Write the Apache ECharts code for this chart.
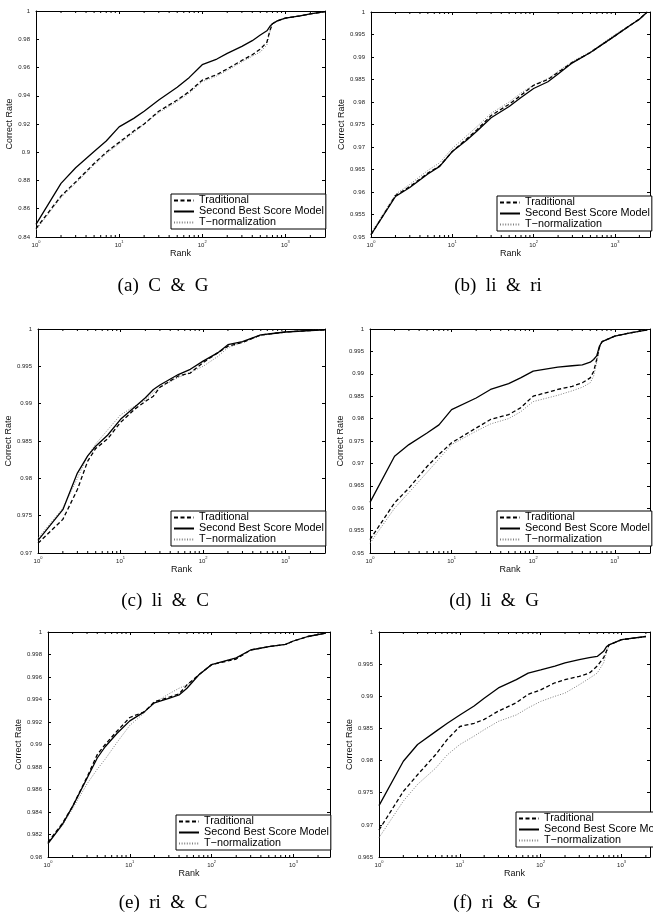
<!DOCTYPE html>
<html>
<head>
<meta charset="utf-8">
<script src="https://cdn.jsdelivr.net/npm/echarts@6/dist/echarts.min.js"></script>
<style>
html,body{margin:0;padding:0;background:#fff;}
#chart{width:653px;height:917px;}
</style>
</head>
<body>
<div id="chart"></div>
<script>
// ---------- Data ----------
var seriesNames = ['Traditional', 'Second Best Score Model', 'T\u2212normalization'];
var captions = ['(a)  C  &  G', '(b)  li  &  ri', '(c)  li  &  C', '(d)  li  &  G', '(e)  ri  &  C', '(f)  ri  &  G'];
var yMins = [0.84, 0.95, 0.97, 0.95, 0.98, 0.965];
var yMaxs = [1, 1, 1, 1, 1, 1];
var yIntervals = [0.02, 0.005, 0.005, 0.005, 0.002, 0.005];
var xMaxs = [3000, 2700, 3000, 2700, 2800, 2250];
var minorTickValues = [2,3,4,5,6,7,8,9,20,30,40,50,60,70,80,90,200,300,400,500,600,700,800,900,2000,3000];

// (a) C & G
var rankA = [1,2,3,5,7,10,15,20,30,50,70,100,150,200,300,400,500,600,650,700,800,1000,1500,2000,3000];
var tradA = [0.846,0.869,0.879,0.892,0.900,0.907,0.915,0.920,0.929,0.937,0.943,0.951,0.955,0.959,0.965,0.969,0.973,0.978,0.986,0.991,0.993,0.995,0.9965,0.998,0.9995];
var sbsA  = [0.849,0.878,0.889,0.9005,0.908,0.918,0.924,0.929,0.937,0.946,0.953,0.962,0.966,0.970,0.975,0.979,0.983,0.986,0.989,0.991,0.993,0.995,0.9965,0.998,0.9995];
var tnA   = [0.845,0.868,0.878,0.891,0.899,0.906,0.914,0.920,0.928,0.936,0.942,0.950,0.954,0.958,0.964,0.968,0.971,0.976,0.985,0.991,0.993,0.995,0.9965,0.998,0.9995];

// (b) li & ri
var rankB = [1,2,3,5,7,10,15,20,30,50,70,100,150,200,300,500,700,1000,1500,2000,2500];
var tradB = [0.9505,0.9592,0.9612,0.9642,0.9658,0.969,0.9718,0.9738,0.977,0.9795,0.9815,0.9837,0.985,0.9866,0.9888,0.991,0.9928,0.9947,0.9969,0.9984,1.0];
var sbsB  = [0.9505,0.959,0.961,0.964,0.9657,0.969,0.9715,0.9735,0.9765,0.979,0.981,0.983,0.9845,0.9862,0.9887,0.991,0.9928,0.9947,0.9969,0.9984,1.0];
var tnB   = [0.9508,0.9595,0.9617,0.9648,0.9665,0.9697,0.9725,0.9745,0.9775,0.980,0.982,0.9838,0.9852,0.9868,0.989,0.9912,0.993,0.995,0.997,0.9985,1.0];

// (c) li & C
var rankC = [1,2,3,4,5,7,10,15,20,25,30,50,70,100,150,200,300,500,700,1000,2000,3000];
var tradC = [0.9713,0.9745,0.9785,0.9823,0.984,0.9853,0.9875,0.9893,0.9903,0.9910,0.9922,0.9937,0.9941,0.9955,0.9968,0.9977,0.9982,0.9992,0.9994,0.9996,0.9998,0.9999];
var sbsC  = [0.9717,0.9758,0.9807,0.983,0.9843,0.9858,0.9879,0.9896,0.9908,0.9919,0.9925,0.9939,0.9946,0.9957,0.9968,0.9979,0.9983,0.9992,0.9994,0.9996,0.9998,0.9999];
var tnC   = [0.9720,0.9760,0.9800,0.9830,0.9846,0.9865,0.9885,0.9897,0.9905,0.9915,0.9922,0.9935,0.9942,0.9950,0.9963,0.9975,0.9982,0.9991,0.9994,0.9996,0.9998,0.9999];

// (d) li & G
var rankD = [1,2,3,5,7,10,20,30,50,70,100,200,300,400,500,550,600,650,700,1000,1500,2500];
var tradD = [0.953,0.9612,0.9645,0.9693,0.972,0.9746,0.9779,0.9798,0.9809,0.9824,0.985,0.9865,0.9872,0.988,0.9891,0.9905,0.9932,0.996,0.9972,0.9984,0.9991,0.9998];
var sbsD  = [0.9613,0.9716,0.9742,0.9768,0.9786,0.982,0.9846,0.9865,0.9878,0.9891,0.9906,0.9915,0.9918,0.992,0.9926,0.9932,0.994,0.9962,0.9972,0.9984,0.9991,0.9998];
var tnD   = [0.9522,0.960,0.9635,0.968,0.971,0.9742,0.9772,0.9788,0.980,0.9815,0.9838,0.9852,0.9862,0.987,0.988,0.9895,0.9925,0.9958,0.9972,0.9984,0.9991,0.9998];

// (e) ri & C
var rankE = [1,1.5,2,3,4,5,7,10,15,20,30,40,50,70,100,200,300,500,800,1000,1500,2500];
var tradE = [0.9813,0.983,0.9845,0.9871,0.9891,0.990,0.9912,0.9924,0.9929,0.9938,0.9942,0.9945,0.9953,0.9962,0.9971,0.9976,0.9984,0.9987,0.9989,0.9992,0.9996,0.9999];
var sbsE  = [0.9812,0.9829,0.9845,0.987,0.9888,0.9898,0.991,0.9921,0.9929,0.9937,0.9941,0.9944,0.995,0.9962,0.9971,0.9977,0.9984,0.9987,0.9989,0.9992,0.9996,0.9999];
var tnE   = [0.9812,0.9828,0.9843,0.9865,0.9878,0.9887,0.9902,0.9917,0.9928,0.9937,0.9945,0.9950,0.9953,0.9962,0.9971,0.9977,0.9984,0.9987,0.9989,0.9992,0.9996,0.9999];

// (f) ri & G
var rankF = [1,2,3,5,7,10,15,20,30,50,70,100,150,200,300,400,500,600,650,700,1000,2000];
var tradF = [0.9692,0.9752,0.9778,0.9809,0.9833,0.9853,0.9858,0.9864,0.9877,0.989,0.9903,0.991,0.9921,0.9926,0.9931,0.9936,0.9947,0.996,0.997,0.998,0.9988,0.9993];
var sbsF  = [0.973,0.9799,0.9825,0.9845,0.9858,0.9871,0.9885,0.9897,0.9913,0.9926,0.9936,0.9941,0.9947,0.9952,0.9957,0.996,0.9962,0.997,0.9977,0.998,0.9988,0.9993];
var tnF   = [0.968,0.9737,0.9763,0.9788,0.9809,0.9825,0.9838,0.9848,0.9861,0.9871,0.9882,0.9892,0.99,0.9905,0.9918,0.9928,0.9936,0.9952,0.9968,0.998,0.9988,0.9993];

var panels = [
  {rank: rankA, trad: tradA, sbs: sbsA, tn: tnA},
  {rank: rankB, trad: tradB, sbs: sbsB, tn: tnB},
  {rank: rankC, trad: tradC, sbs: sbsC, tn: tnC},
  {rank: rankD, trad: tradD, sbs: sbsD, tn: tnD},
  {rank: rankE, trad: tradE, sbs: sbsE, tn: tnE},
  {rank: rankF, trad: tradF, sbs: sbsF, tn: tnF}
];

// ---------- Layout ----------
var grids = [
  {left: 36,  top: 11,  width: 289, height: 226},
  {left: 371, top: 12,  width: 280, height: 225},
  {left: 38,  top: 329, width: 287, height: 224},
  {left: 370, top: 329, width: 281, height: 224},
  {left: 48,  top: 632, width: 282, height: 225},
  {left: 379, top: 632, width: 274, height: 225}
];
var legendPos = [
  {left: 171, top: 194},
  {left: 497, top: 196},
  {left: 171, top: 511},
  {left: 497, top: 511},
  {left: 176, top: 815},
  {left: 516, top: 812}
];
var captionPos = [[163, 286], [498, 286], [165, 601], [494, 601], [163, 903], [497, 903]];

var FONT = 'Liberation Sans, Arial, Helvetica, sans-serif';
var option = {
  animation: false,
  backgroundColor: '#fff',
  grid: [], xAxis: [], yAxis: [], series: [], legend: [], graphic: []
};

function zip(xs, ys) { return xs.map(function (x, i) { return [x, ys[i]]; }); }

panels.forEach(function (p, i) {
  option.grid.push(Object.assign({containLabel: false}, grids[i]));
  var xBase = {
    type: 'log', logBase: 10, min: 1, max: xMaxs[i], gridIndex: i,
    axisLine: {show: true, lineStyle: {color: '#000', width: 1}},
    axisTick: {show: true, inside: true, length: 3, lineStyle: {color: '#000', width: 1}},
    splitLine: {show: false}, minorTick: {show: false}
  };
  option.xAxis.push(Object.assign({}, xBase, {
    position: 'bottom',
    name: 'Rank', nameLocation: 'middle', nameGap: 12,
    nameTextStyle: {fontFamily: FONT, fontSize: 9, color: '#111'},
    axisLabel: {
      show: true, margin: 3,
      formatter: function (v) {
        var e = Math.log10(v), r = Math.round(e);
        if (Math.abs(e - r) > 1e-6) return '';
        return '{b|10}{s|' + r + '}';
      },
      rich: {
        b: {fontFamily: FONT, fontSize: 6, color: '#222', lineHeight: 8, verticalAlign: 'bottom'},
        s: {fontFamily: FONT, fontSize: 4, color: '#222', lineHeight: 8, verticalAlign: 'top'}
      }
    }
  }));
  option.xAxis.push(Object.assign({}, xBase, {position: 'top', axisLabel: {show: false}}));
  var yBase = {
    type: 'value', min: yMins[i], max: yMaxs[i], interval: yIntervals[i], gridIndex: i,
    axisLine: {show: true, lineStyle: {color: '#000', width: 1}},
    axisTick: {show: true, inside: true, length: 3, lineStyle: {color: '#000', width: 1}},
    splitLine: {show: false}
  };
  option.yAxis.push(Object.assign({}, yBase, {
    position: 'left',
    name: 'Correct Rate', nameLocation: 'middle', nameGap: 16, nameRotate: 90,
    nameTextStyle: {fontFamily: FONT, fontSize: 9, color: '#111'},
    axisLabel: {
      show: true, margin: 6, fontFamily: FONT, fontSize: 6, color: '#222',
      formatter: function (v) { return String(+v.toFixed(4)); }
    }
  }));
  option.yAxis.push(Object.assign({}, yBase, {position: 'right', axisLabel: {show: false}}));

  var xi = i * 2, yi = i * 2;
  option.series.push({
    name: seriesNames[2], type: 'line', xAxisIndex: xi, yAxisIndex: yi,
    data: zip(p.rank, p.tn), symbol: 'none', silent: true,
    itemStyle: {color: '#808080'},
    lineStyle: {color: '#808080', width: 1, type: [1, 1.6]}, z: 2
  });
  option.series.push({
    name: seriesNames[0], type: 'line', xAxisIndex: xi, yAxisIndex: yi,
    data: zip(p.rank, p.trad), symbol: 'none', silent: true,
    itemStyle: {color: '#000'},
    lineStyle: {color: '#000', width: 1.3, type: [4, 2.5]}, z: 3
  });
  option.series.push({
    name: seriesNames[1], type: 'line', xAxisIndex: xi, yAxisIndex: yi,
    data: zip(p.rank, p.sbs), symbol: 'none', silent: true,
    itemStyle: {color: '#000'},
    lineStyle: {color: '#000', width: 1.3, type: 'solid'}, z: 4
  });
  // minor log ticks (bottom and top), positioned via the axis scale
  var ymin = yMins[i], ymax = yMaxs[i];
  option.series.push({
    type: 'custom', xAxisIndex: xi, yAxisIndex: yi, silent: true, z: 5,
    data: minorTickValues.filter(function (v) { return v < xMaxs[i]; }).map(function (v) { return [v, ymin]; }),
    renderItem: function (params, api) {
      var v = api.value(0);
      var pb = api.coord([v, ymin]);
      var pt = api.coord([v, ymax]);
      return {
        type: 'group', children: [
          {type: 'line', shape: {x1: pb[0], y1: pb[1], x2: pb[0], y2: pb[1] - 2}, style: {stroke: '#000', lineWidth: 1}},
          {type: 'line', shape: {x1: pt[0], y1: pt[1], x2: pt[0], y2: pt[1] + 2}, style: {stroke: '#000', lineWidth: 1}}
        ]
      };
    }
  });

  option.legend.push({
    left: legendPos[i].left, top: legendPos[i].top, orient: 'vertical',
    data: [seriesNames[0], seriesNames[1], seriesNames[2]],
    itemWidth: 20, itemHeight: 12, itemGap: 0, padding: [1, 2, 1, 2],
    borderColor: '#000', borderWidth: 1, backgroundColor: '#fff',
    selectedMode: false,
    itemStyle: {color: 'rgba(0,0,0,0)', borderWidth: 0, opacity: 0},
    textStyle: {fontFamily: FONT, fontSize: 10.8, color: '#000'}
  });

  option.graphic.push({
    type: 'text', x: captionPos[i][0], y: captionPos[i][1], silent: true,
    style: {text: captions[i], fill: '#000', font: '19px "Liberation Serif", "Times New Roman", serif', align: 'center', verticalAlign: 'middle'}
  });
});

var chart = echarts.init(document.getElementById('chart'), null, {renderer: 'canvas'});
chart.setOption(option);
</script>
</body>
</html>
